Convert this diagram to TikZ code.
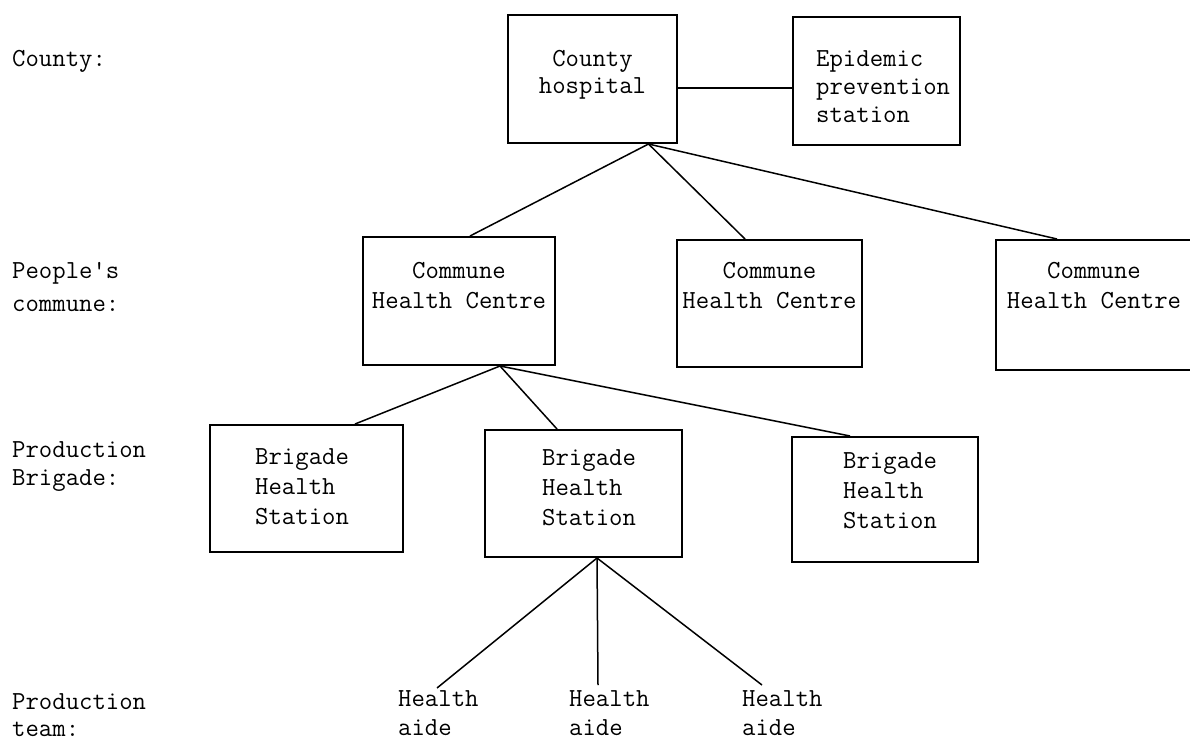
\documentclass[tikz,border=0pt]{standalone}
\usepackage{fontspec}
\usetikzlibrary{calc}
\newcommand{\twfont}[1]{\ttfamily\addfontfeatures{FakeBold=1.2}\fontsize{26}{#1}\selectfont}
\tikzset{
  box/.style={draw, line width=2pt, inner sep=0pt},
  link/.style={line width=1.5pt},
  txt/.style={font=\twfont{29}, inner sep=0pt},
  txtc/.style={txt, align=center, anchor=north},
  txtl/.style={txt, align=left, anchor=north west},
}
\begin{document}
\begin{tikzpicture}[x=1pt,y=-1pt]
\useasboundingbox (0,0) rectangle (1190,740);

% level labels
\node[txtl] (lCounty) at (12,50) {County:};
\node[txtl, font=\twfont{33}] (lCommune) at (12,262) {People's\\commune:};
\node[txtl, font=\twfont{28}] (lBrigade) at (12,441) {Production\\Brigade:};
\node[txtl, font=\twfont{27}] (lTeam) at (12,693) {Production\\team:};

% county level
\node[box, minimum width=169pt, minimum height=128pt] (ch) at (592.5,79) {};
\node[txtc, font=\twfont{27}] (chT) at (592.5,50) {County\\hospital};
\node[box, minimum width=167pt, minimum height=128pt] (ep) at (876.5,81) {};
\node[txtl, font=\twfont{28}] (epT) at (816,50) {Epidemic\\prevention\\station};

% commune level
\node[box, minimum width=192pt, minimum height=128pt] (cA) at (459,301) {};
\node[txtc, font=\twfont{30}] (cAT) at (459,262) {Commune\\Health Centre};
\node[box, minimum width=185pt, minimum height=127pt] (cB) at (769.5,303.5) {};
\node[txtc, font=\twfont{30}] (cBT) at (769.5,262) {Commune\\Health Centre};
\node[box, minimum width=200pt, minimum height=130pt] (cC) at (1096,305) {};
\node[txtc, font=\twfont{30}] (cCT) at (1094,262) {Commune\\Health Centre};

% brigade level
\node[box, minimum width=193pt, minimum height=127pt] (b1) at (306.5,488.5) {};
\node[txtl, font=\twfont{30}] (b1T) at (255,448) {Brigade\\Health\\Station};
\node[box, minimum width=197pt, minimum height=127pt] (b2) at (583.5,493.5) {};
\node[txtl, font=\twfont{30}] (b2T) at (542,449) {Brigade\\Health\\Station};
\node[box, minimum width=186pt, minimum height=125pt] (b3) at (885,499.5) {};
\node[txtl, font=\twfont{30}] (b3T) at (843,452) {Brigade\\Health\\Station};

% team level
\node[txtl, font=\twfont{29}] (ha1) at (398,690) {Health\\aide};
\node[txtl, font=\twfont{29}] (ha2) at (569,690) {Health\\aide};
\node[txtl, font=\twfont{29}] (ha3) at (742,690) {Health\\aide};

% junction points
\coordinate (chJ) at ([xshift=56pt]ch.south);
\coordinate (cAJ) at ([xshift=41pt]cA.south);
\coordinate (b2J) at ([xshift=13.5pt]b2.south);

% connectors
\draw[link] ([yshift=-9pt]ch.east) -- ([yshift=-9pt]ch.east -| ep.west);
\draw[link] (chJ) -- ([xshift=11pt]cA.north);
\draw[link] (chJ) -- ([xshift=-24.5pt]cB.north);
\draw[link] (chJ) -- ([xshift=-39pt]cC.north);
\draw[link] (cAJ) -- ([xshift=48.5pt]b1.north);
\draw[link] (cAJ) -- ([xshift=-26.5pt]b2.north);
\draw[link] (cAJ) -- ([xshift=-35pt]b3.north);
\draw[link] (b2J) -- ([xshift=39pt,yshift=2pt]ha1.north west);
\draw[link] (b2J) -- ([xshift=29pt,yshift=5pt]ha2.north west);
\draw[link] (b2J) -- ([xshift=20pt,yshift=5pt]ha3.north west);
\end{tikzpicture}
\end{document}
